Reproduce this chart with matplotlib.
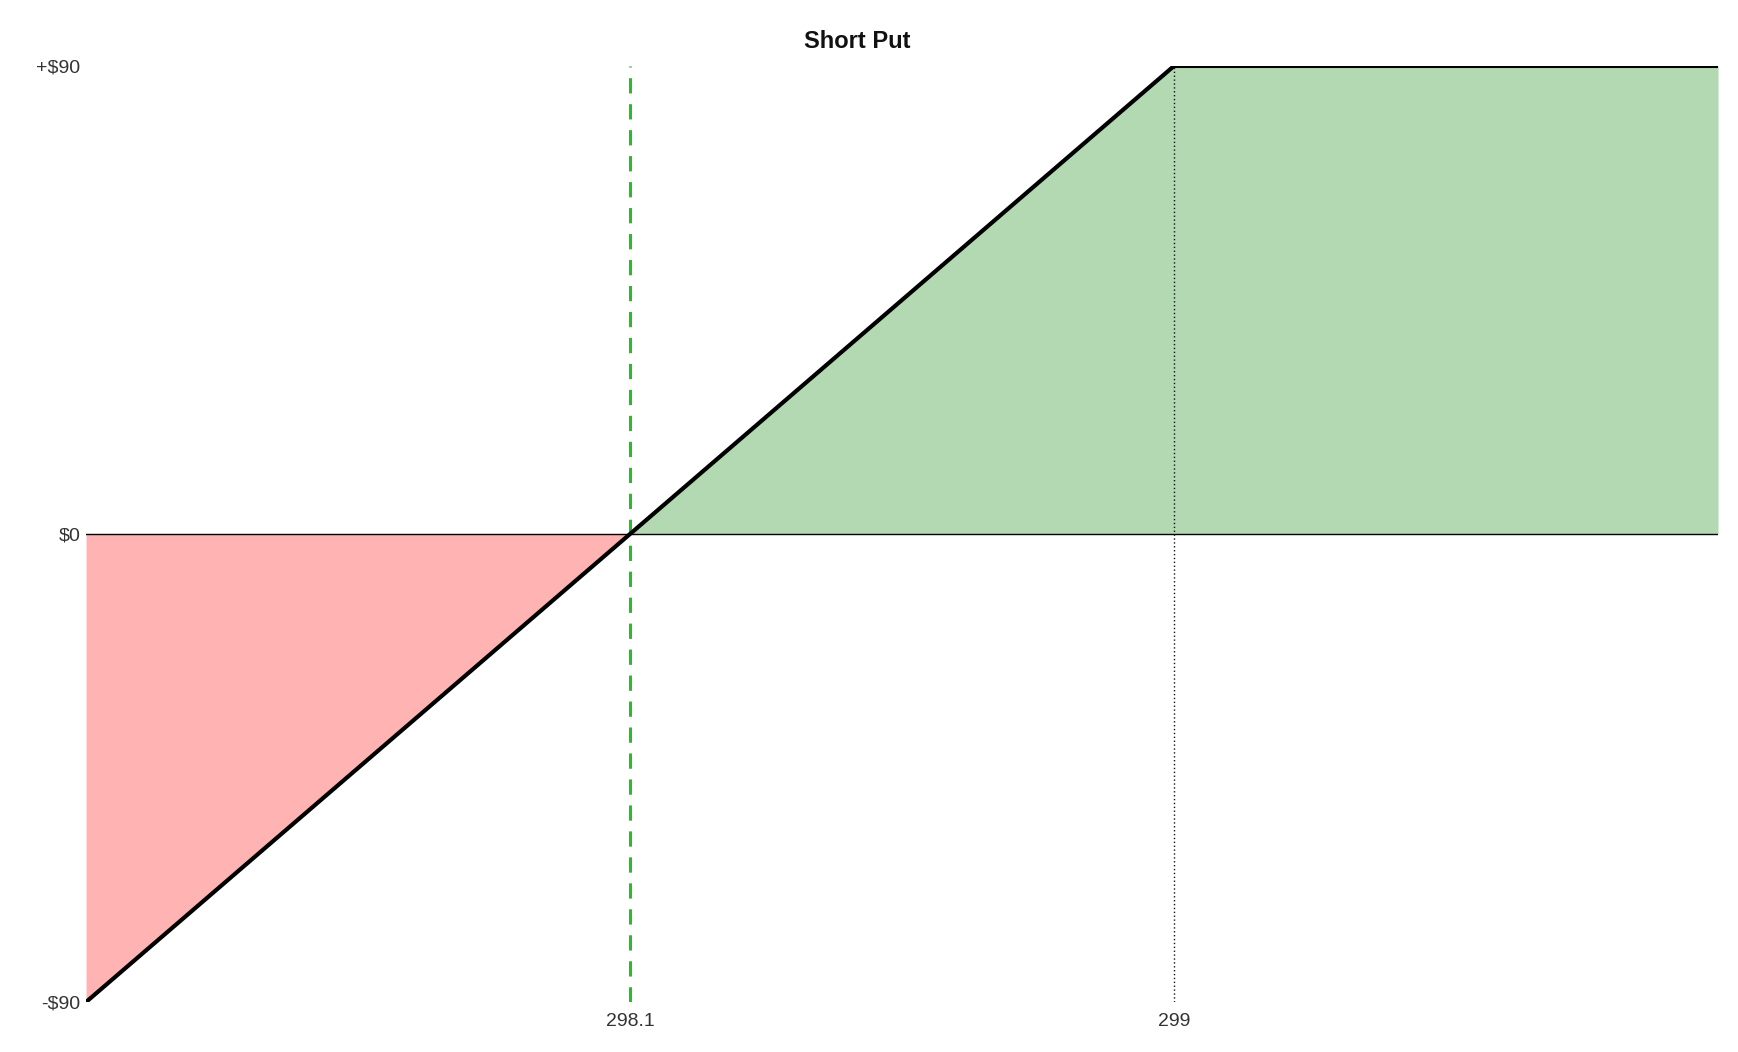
import numpy as np
import matplotlib.pyplot as plt

plt.rcParams['font.family'] = ['Liberation Sans', 'DejaVu Sans']

# payoff of the short put at expiry
prices = np.array([297.2, 298.1, 299.0, 299.9])
pnl = np.array([-90, 0, 90, 90])
breakeven = 298.1
strike = 299.0
y_ticks = [-90, 0, 90]
y_labels = ['-$90', '$0', '+$90']
x_ticks = [298.1, 299.0]
x_labels = ['298.1', '299']

fig = plt.figure(figsize=(17.38, 10.52), dpi=100)
ax = fig.add_axes([0.0495, 0.0475, 0.939, 0.8898])

ax.fill_between(prices, pnl, 0, where=pnl >= 0, interpolate=True,
                color='#b3d9b3', lw=0)
ax.fill_between(prices, pnl, 0, where=pnl <= 0, interpolate=True,
                color='#ffb3b3', lw=0)
ax.axhline(0, color='black', lw=1.0)
ax.plot([breakeven, breakeven], [-90, 90], color='#2db82d', lw=2.2,
        dashes=(5, 3.5))
ax.plot([strike, strike], [-90, 90], color='#111111', lw=1.0,
        linestyle=(0, (1, 1.8)))
ax.plot(prices, pnl, color='black', lw=3.0, solid_capstyle='butt')

ax.set_xlim(prices[0], prices[-1])
ax.set_ylim(-90, 90)
for s in ax.spines.values():
    s.set_visible(False)
ax.set_yticks(y_ticks)
ax.set_yticklabels(y_labels)
ax.set_xticks(x_ticks)
ax.set_xticklabels(x_labels)
ax.tick_params(length=0, labelsize=14, labelcolor='#333333', pad=4)
ax.tick_params(axis='x', pad=8)

fig.text(0.4935, 0.961, 'Short Put', ha='center', va='center',
         fontsize=17, fontweight='bold', color='#111111')

fig.savefig('out.png', dpi=100)
